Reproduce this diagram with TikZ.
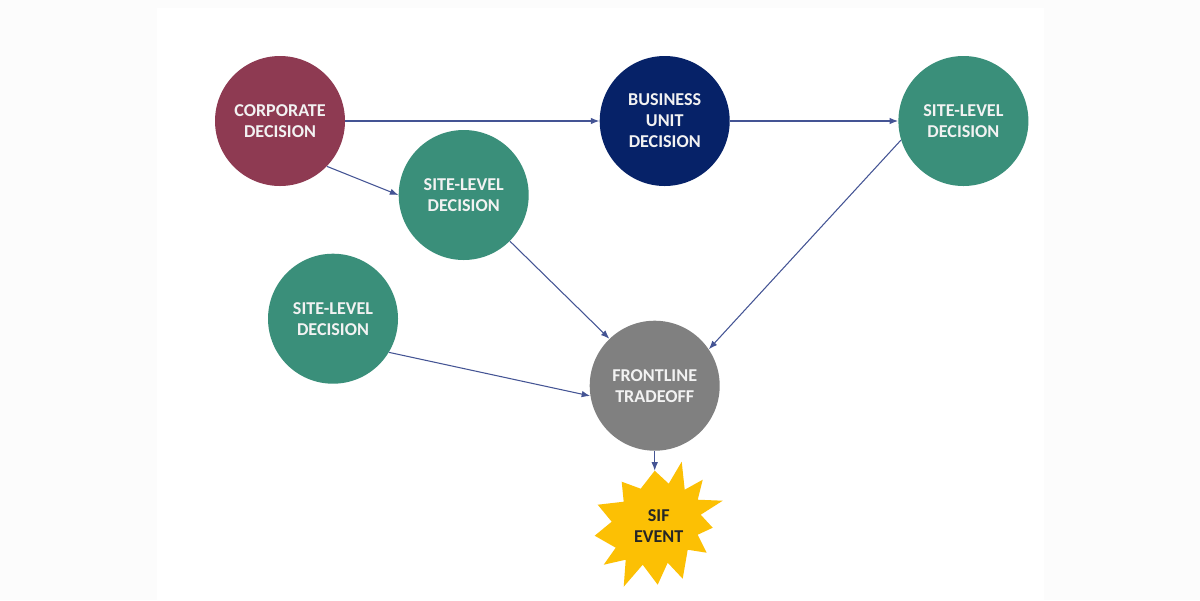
\documentclass[tikz,border=0pt]{standalone}
\usepackage{fontspec}
\setmainfont{Carlito}
\usetikzlibrary{positioning,arrows.meta,backgrounds}

\definecolor{corpred}{RGB}{142,58,82}
\definecolor{bunavy}{RGB}{6,34,104}
\definecolor{siteteal}{RGB}{58,143,122}
\definecolor{tradegray}{RGB}{128,128,128}
\definecolor{sifgold}{RGB}{252,192,4}
\definecolor{sifink}{RGB}{38,38,38}
\definecolor{decwhite}{RGB}{242,242,242}
\definecolor{linkblue}{RGB}{68,84,148}
\definecolor{pagegray}{RGB}{252,252,252}

\tikzset{
  decision/.style={circle, minimum size=2.6cm, inner sep=0pt, align=center,
    text=decwhite, font=\bfseries\fontsize{10.3}{12}\selectfont},
  corpdec/.style={decision, fill=corpred},
  budec/.style={decision, fill=bunavy},
  sitedec/.style={decision, fill=siteteal},
  tradeoff/.style={decision, fill=tradegray},
  sifevent/.style={align=center, inner sep=0pt, text=sifink,
    font=\bfseries\fontsize{10.3}{12}\selectfont},
  link/.style={draw=linkblue, line width=0.6pt, -{Latex[length=1.7mm,width=1.3mm]}},
}

\begin{document}
\begin{tikzpicture}

%Declare nodes.
\node[corpdec] (corp) at (5.6,-2.42) {CORPORATE\\DECISION};
\node[budec, right=5.08cm of corp] (bu) {BUSINESS\\UNIT\\DECISION};
\node[sitedec, right=3.36cm of bu] (siteR) {SITE-LEVEL\\DECISION};
\node[sitedec, right=1.06cm of corp, yshift=-1.48cm] (siteM) {SITE-LEVEL\\DECISION};
\node[sitedec, below=1.34cm of corp, xshift=1.06cm] (siteL) {SITE-LEVEL\\DECISION};
\node[tradeoff, below=2.68cm of bu, xshift=-0.2cm] (front) {FRONTLINE\\TRADEOFF};
\node[sifevent, below=2.8cm of front.center, anchor=center, xshift=0.08cm] (sif) {SIF\\EVENT};
\coordinate (siftop) at ([shift={(-0.08,1.1)}]sif.center);

%Setup background and burst.
\begin{scope}[on background layer]
\fill[pagegray] (0,0) rectangle (24,-12);
\fill[white] (3.14,-0.16) rectangle (20.88,-12);
\fill[sifgold, shift={(sif.center)}] (-0.08,1.1) -- (0.20,0.84) -- (0.46,1.28) -- (0.52,0.72)
  -- (0.88,0.92) -- (0.78,0.52) -- (1.28,0.50) -- (0.84,0.22) -- (1.08,-0.04)
  -- (0.78,-0.18) -- (0.96,-0.54) -- (0.58,-0.48) -- (0.48,-1.06) -- (0.18,-0.74)
  -- (-0.02,-1.18) -- (-0.32,-0.78) -- (-0.70,-1.22) -- (-0.66,-0.68) -- (-1.10,-0.78)
  -- (-0.86,-0.44) -- (-1.28,-0.20) -- (-0.94,0.08) -- (-1.22,0.42) -- (-0.70,0.48)
  -- (-0.74,0.88) -- (-0.36,0.74) -- cycle;
\end{scope}

%Setup edges.
\draw[link] (corp.east) -- (bu.west);
\draw[link] (bu.east) -- (siteR.west);
\draw[link] (corp.-44) -- (siteM.west);
\draw[link] (siteM.-45) -- (front.134);
\draw[link] (siteR.197) -- (front.34);
\draw[link] (siteL.-31) -- (front.189);
\draw[link] (front.south) -- (siftop);

\end{tikzpicture}
\end{document}
